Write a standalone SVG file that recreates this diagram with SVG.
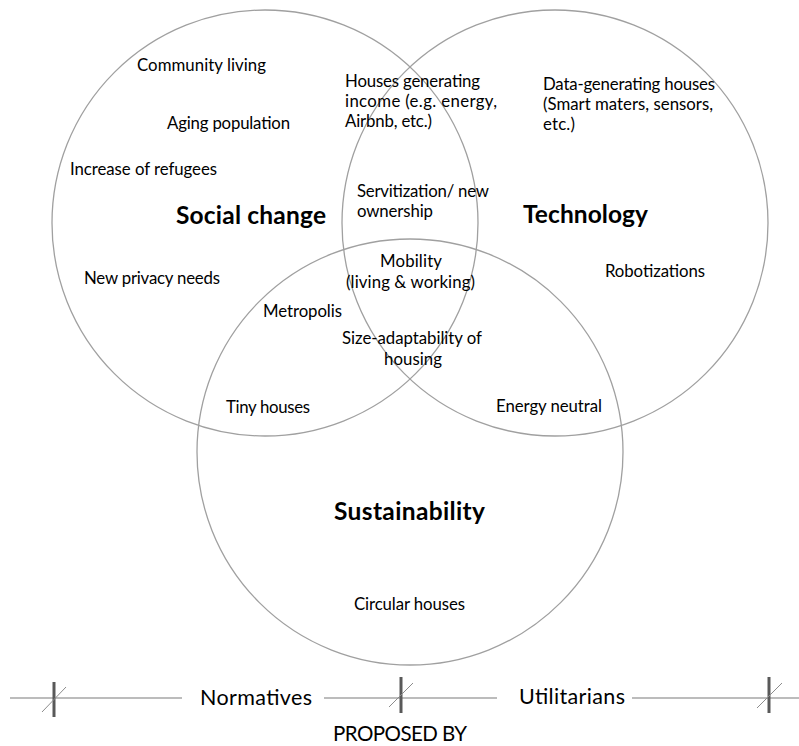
<svg xmlns="http://www.w3.org/2000/svg" width="799" height="746" viewBox="0 0 799 746">
<style>
.c{fill:none;stroke:#a0a0a0;stroke-width:1.3}
.t{font-family:Lato,"Open Sans","Liberation Sans",sans-serif;font-size:16.8px;fill:#000}
.h{font-family:Lato,"Open Sans","Liberation Sans",sans-serif;font-size:24.5px;font-weight:bold;fill:#000}
.b{font-family:Lato,"Open Sans","Liberation Sans",sans-serif;font-size:21.5px;fill:#000}
.ln{stroke:#a6a6a6;stroke-width:1.5;fill:none}
.tk{stroke:#595959;stroke-width:3}
.dg{stroke:#8c8c8c;stroke-width:1}
</style>
<rect width="799" height="746" fill="#fff"/>
<g id="social-change">
<circle class="c" cx="265" cy="223" r="213"/>
<text class="h" x="176" y="224" textLength="150">Social change</text>
<text class="t" x="137" y="71" textLength="129">Community living</text>
<text class="t" x="167" y="129" textLength="123">Aging population</text>
<text class="t" x="70" y="175" textLength="147">Increase of refugees</text>
<text class="t" x="84" y="284" textLength="136">New privacy needs</text>
</g>
<g id="technology">
<circle class="c" cx="555" cy="223" r="213"/>
<text class="h" x="523" y="223" textLength="125">Technology</text>
<text class="t" x="543" y="90" textLength="172">Data-generating houses</text>
<text class="t" x="543" y="110" textLength="170">(Smart maters, sensors,</text>
<text class="t" x="543" y="130" textLength="32">etc.)</text>
<text class="t" x="605" y="277" textLength="100">Robotizations</text>
</g>
<g id="sustainability">
<circle class="c" cx="410" cy="452" r="213"/>
<text class="h" x="334" y="520" textLength="151">Sustainability</text>
<text class="t" x="354" y="610" textLength="111">Circular houses</text>
</g>
<g id="overlaps">
<text class="t" x="345" y="87" textLength="135">Houses generating</text>
<text class="t" x="345" y="107" textLength="152">income (e.g. energy,</text>
<text class="t" x="345" y="127" textLength="87">Airbnb, etc.)</text>
<text class="t" x="357" y="197" textLength="132">Servitization/ new</text>
<text class="t" x="357" y="217" textLength="76">ownership</text>
<text class="t" x="380" y="267" textLength="62">Mobility</text>
<text class="t" x="346" y="288" textLength="129">(living &amp; working)</text>
<text class="t" x="263" y="317" textLength="79">Metropolis</text>
<text class="t" x="342" y="344" textLength="140">Size-adaptability of</text>
<text class="t" x="384" y="365" textLength="58">housing</text>
<text class="t" x="226" y="413" textLength="84">Tiny houses</text>
<text class="t" x="496" y="412" textLength="106">Energy neutral</text>
</g>
<g id="connectors">
<line class="ln" x1="10" y1="698" x2="182" y2="698"/>
<line class="ln" x1="324" y1="698" x2="497" y2="698"/>
<line class="ln" x1="632" y1="698" x2="799" y2="698"/>
<line class="tk" x1="54" y1="682" x2="54" y2="717"/>
<line class="tk" x1="401" y1="677" x2="401" y2="713"/>
<line class="tk" x1="769" y1="677" x2="769" y2="713"/>
<line class="dg" x1="42" y1="712" x2="66" y2="687"/>
<line class="dg" x1="389" y1="707" x2="413" y2="683"/>
<line class="dg" x1="757" y1="708" x2="782" y2="683"/>
</g>
<g id="scale-labels">
<text class="b" x="200" y="705" textLength="112">Normatives</text>
<text class="b" x="519" y="704" textLength="106">Utilitarians</text>
<text class="b" x="333" y="741" textLength="134" style="font-size:20.5px">PROPOSED BY</text>
</g>
</svg>
